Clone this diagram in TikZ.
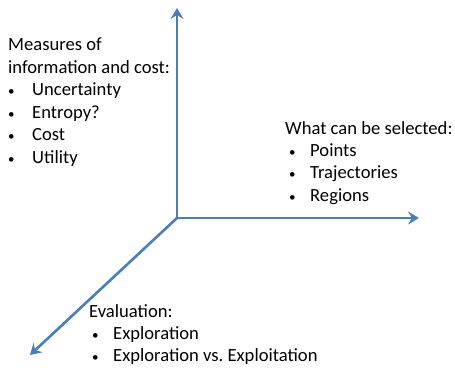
\documentclass[tikz,border=0pt]{standalone}
\usepackage{fontspec}
\setmainfont{Carlito}
\frenchspacing
\usetikzlibrary{arrows.meta}
\definecolor{axisblue}{HTML}{4A7EBB}
\tikzset{
  axis/.style={draw=axisblue, line width=2.6pt, -{Stealth[length=11pt,width=13pt,inset=4pt]}},
  txt/.style={anchor=mid west, inner sep=0pt, font=\fontsize{18.6}{22}\selectfont, text=black},
  bul/.style={anchor=mid west, inner sep=0pt, font=\fontsize{13}{15}\selectfont, text=black},
}
\begin{document}
\begin{tikzpicture}[x=1pt,y=1pt]
\useasboundingbox (0,0) rectangle (455,367);
\coordinate (O) at (177,149);
\coordinate (top) at (177,359);
\coordinate (right) at (419,149);
\coordinate (dl) at (30,12);
\draw[axis] (O) -- (top);
\draw[axis] (O) -- (right);
\draw[axis] (O) -- (dl);
% left block
\node[txt] (m1) at (8,319) {Measures of};
\node[txt] (m2) at (8,296) {information and cost:};
\node[bul] (mb1) at (8,274) {\textbullet};
\node[txt] (mt1) at (32,274) {Uncertainty};
\node[bul] (mb2) at (8,251) {\textbullet};
\node[txt] (mt2) at (32,251) {Entropy?};
\node[bul] (mb3) at (8,229) {\textbullet};
\node[txt] (mt3) at (32,229) {Cost};
\node[bul] (mb4) at (8,206) {\textbullet};
\node[txt] (mt4) at (32,206) {Utility};
% right block
\node[txt] (w1) at (285,235) {What can be selected:};
\node[bul] (wb1) at (289,213) {\textbullet};
\node[txt] (wt1) at (310,213) {Points};
\node[bul] (wb2) at (289,191) {\textbullet};
\node[txt] (wt2) at (310,191) {Trajectories};
\node[bul] (wb3) at (289,168) {\textbullet};
\node[txt] (wt3) at (310,168) {Regions};
% bottom block
\node[txt] (e1) at (89,52) {Evaluation:};
\node[bul] (eb1) at (92,30) {\textbullet};
\node[txt] (et1) at (113,30) {Exploration};
\node[bul] (eb2) at (92,8) {\textbullet};
\node[txt] (et2) at (113,8) {Exploration vs. Exploitation};
\end{tikzpicture}
\end{document}
